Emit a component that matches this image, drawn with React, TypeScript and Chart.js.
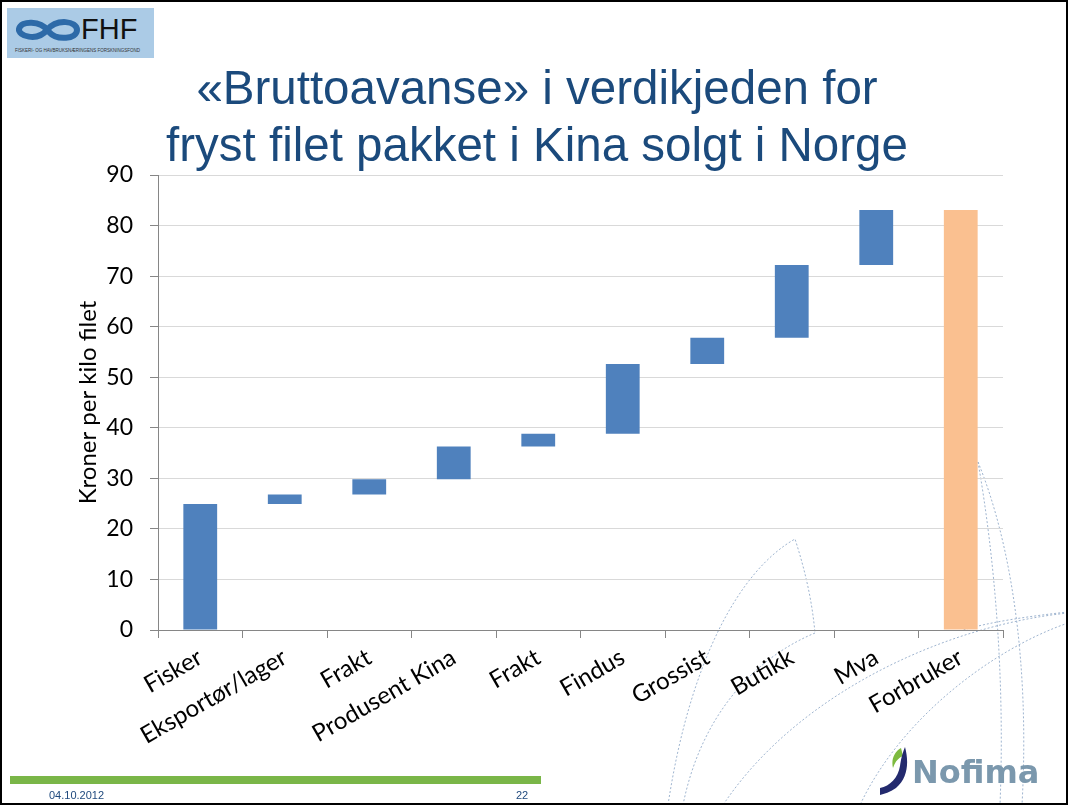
import React, { useEffect, useRef } from "react";
import { Chart, registerables } from "chart.js";

Chart.register(...registerables);

// ---- data ----
const categories = [
  "Fisker",
  "Eksportør/lager",
  "Frakt",
  "Produsent Kina",
  "Frakt",
  "Findus",
  "Grossist",
  "Butikk",
  "Mva",
  "Forbruker",
];
const barStart = [0, 24.9, 26.8, 29.8, 36.3, 38.8, 52.6, 57.8, 72.2, 0];
const barEnd = [24.9, 26.8, 29.8, 36.3, 38.8, 52.6, 57.8, 72.2, 83.1, 83.1];
const yMin = 0;
const yMax = 90;
const yStep = 10;
const yAxisTitle = "Kroner per kilo filet";
const titleLines = ["«Bruttoavanse» i verdikjeden for", "fryst filet pakket i Kina solgt i Norge"];

const STEP_COLOR = "#4F81BD";
const TOTAL_COLOR = "#FAC090";
const TICK_FONT = "Lato, 'Open Sans', sans-serif";

export default function App() {
  const ref = useRef<HTMLCanvasElement | null>(null);

  useEffect(() => {
    if (!ref.current) return;
    const last = categories.length - 1;
    const chart = new Chart(ref.current, {
      type: "bar",
      data: {
        labels: categories,
        datasets: [
          {
            data: categories.map((_, i) => [barStart[i], barEnd[i]]) as any,
            backgroundColor: categories.map((_, i) => (i === last ? TOTAL_COLOR : STEP_COLOR)),
            borderWidth: 0,
            barPercentage: 0.4,
            categoryPercentage: 1,
          },
        ],
      },
      options: {
        responsive: false,
        animation: false,
        layout: { padding: { top: 175, right: 65, left: 70, bottom: 0 } },
        plugins: {
          legend: { display: false },
          tooltip: { enabled: false },
          title: { display: false },
        },
        scales: {
          x: {
            offset: true,
            grid: {
              offset: true,
              drawOnChartArea: false,
              drawTicks: true,
              tickLength: 8,
              color: "#868686",
            },
            border: { color: "#868686", width: 1 },
            ticks: {
              autoSkip: false,
              minRotation: 30,
              maxRotation: 30,
              padding: 5,
              color: "#000",
              font: { family: TICK_FONT, size: 24 },
            },
            afterFit: (scale: any) => {
              scale.height = 175;
            },
          },
          y: {
            min: yMin,
            max: yMax,
            grid: {
              color: "#d9d9d9",
              tickLength: 8,
              tickColor: "#868686",
            },
            border: { color: "#868686", width: 1 },
            ticks: {
              stepSize: yStep,
              padding: 17,
              color: "#000",
              font: { family: TICK_FONT, size: 23 },
            },
            title: {
              display: true,
              text: yAxisTitle,
              color: "#000",
              font: { family: TICK_FONT, size: 24 },
              padding: { top: 4, bottom: 4 },
            },
            afterFit: (scale: any) => {
              scale.width = 88;
            },
          },
        },
      },
    });
    return () => chart.destroy();
  }, []);

  const dot = { fill: "none", stroke: "#9fb5d0", strokeWidth: 1, strokeDasharray: "2 2" } as const;

  return (
    <div
      style={{
        position: "absolute",
        left: 0,
        top: 0,
        width: 1068,
        height: 805,
        background: "#fff",
        overflow: "hidden",
      }}
    >
      {/* decorative dotted curves */}
      <svg width={1068} height={805} style={{ position: "absolute", left: 0, top: 0 }}>
        <path d="M668,805 C690,660 740,570 795,539 C805,570 812,600 815,633" {...dot} />
        <path d="M815,633 C750,660 700,720 683,805" {...dot} />
        <path d="M978,462 C1010,540 1030,660 1022,805" {...dot} />
        <path d="M978,462 C995,560 1005,680 1000,805" {...dot} />
        <path d="M1068,613 C950,625 800,690 723,805" {...dot} />
        <path d="M1068,623 C990,650 900,720 860,805" {...dot} />
        <path d="M1068,612 C1030,616 990,622 963,630" {...dot} />
      </svg>

      <canvas
        ref={ref}
        width={1068}
        height={805}
        style={{ position: "absolute", left: 0, top: 0, width: 1068, height: 805 }}
      />

      {/* FHF logo */}
      <div
        style={{
          position: "absolute",
          left: 7,
          top: 8,
          width: 147,
          height: 50,
          background: "#abcbe6",
        }}
      >
        <svg width={147} height={50} style={{ position: "absolute", left: 0, top: 0 }}>
          <path
            d="M40,22 C34,13 14,12 12,21 C11,28 30,34 40,22 C50,10 70,13 70,22 C70,31 50,33 42,24"
            fill="none"
            stroke="#2d6aa8"
            strokeWidth={6}
            strokeLinecap="round"
          />
        </svg>
        <div
          style={{
            position: "absolute",
            left: 74,
            top: 7,
            fontFamily: "'Liberation Sans', Arial, sans-serif",
            fontSize: 29,
            lineHeight: "29px",
            color: "#111",
          }}
        >
          FHF
        </div>
        <div
          style={{
            position: "absolute",
            left: 8,
            top: 40,
            fontFamily: "'Liberation Sans', Arial, sans-serif",
            fontSize: 4.5,
            lineHeight: "6px",
            color: "#333",
            whiteSpace: "nowrap",
          }}
        >
          FISKERI- OG HAVBRUKSNÆRINGENS FORSKNINGSFOND
        </div>
      </div>

      {/* title */}
      <div
        style={{
          position: "absolute",
          left: 0,
          top: 59,
          width: 1074,
          textAlign: "center",
          fontFamily: "'Liberation Sans', Arial, sans-serif",
          fontSize: 47.5,
          lineHeight: "57px",
          color: "#1B4A7C",
        }}
      >
        {titleLines.map((l, i) => (
          <div key={i}>{l}</div>
        ))}
      </div>

      {/* footer */}
      <div style={{ position: "absolute", left: 10, top: 776, width: 531, height: 8, background: "#7AB648" }} />
      <div
        style={{
          position: "absolute",
          left: 49,
          top: 789,
          fontFamily: "'Liberation Sans', Arial, sans-serif",
          fontSize: 11,
          lineHeight: "13px",
          color: "#1F497D",
        }}
      >
        04.10.2012
      </div>
      <div
        style={{
          position: "absolute",
          left: 516,
          top: 789,
          fontFamily: "'Liberation Sans', Arial, sans-serif",
          fontSize: 11,
          lineHeight: "13px",
          color: "#1F497D",
        }}
      >
        22
      </div>

      {/* Nofima logo */}
      <svg width={40} height={60} style={{ position: "absolute", left: 876, top: 742 }}>
        <path d="M25,6 C18,10 15,18 17,26 C19,20 22,16 27,14 Z" fill="#7dba3f" />
        <path d="M29,5 C33,20 32,36 20,46 C14,50 8,52 4,53 L4,46 C14,44 22,36 24,24 C25,16 27,10 29,5 Z" fill="#232a6e" />
      </svg>
      <div
        style={{
          position: "absolute",
          left: 912,
          top: 753,
          fontFamily: "'DejaVu Sans', sans-serif",
          fontWeight: "bold",
          fontSize: 32,
          lineHeight: "38px",
          color: "#7B98AD",
        }}
      >
        Nofima
      </div>

      {/* frame */}
      <div
        style={{
          position: "absolute",
          left: 0,
          top: 0,
          width: 1068,
          height: 805,
          boxSizing: "border-box",
          border: "2px solid #000",
          pointerEvents: "none",
        }}
      />
    </div>
  );
}
